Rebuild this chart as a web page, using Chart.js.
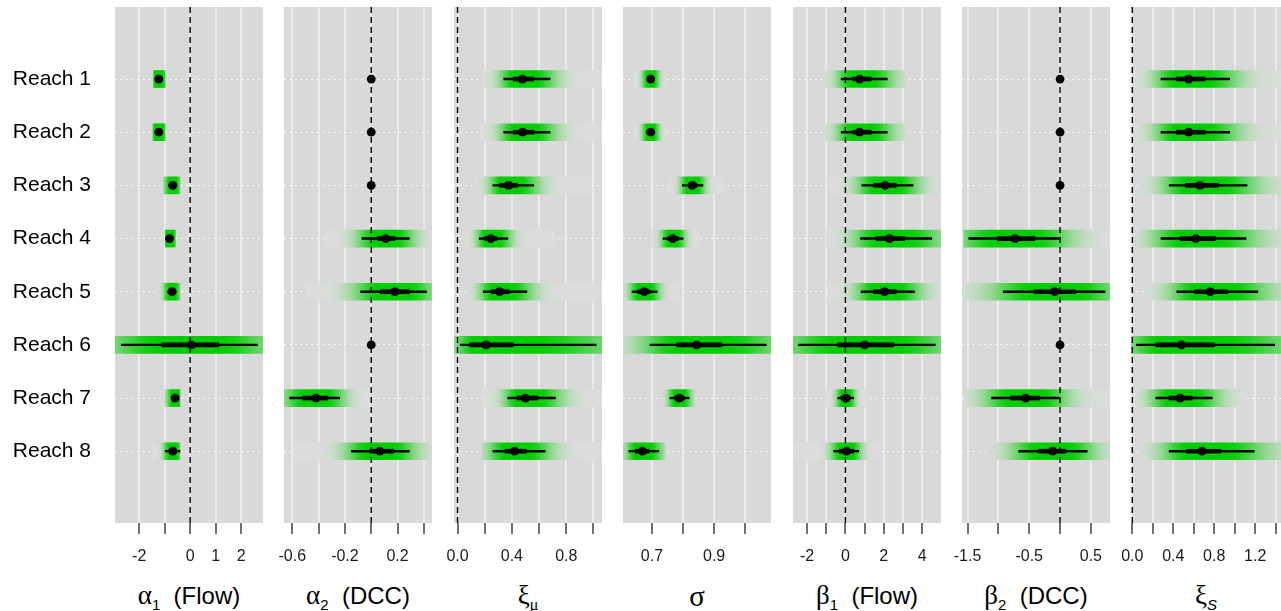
<!DOCTYPE html>
<html>
<head>
<meta charset="utf-8">
<script src="https://cdn.jsdelivr.net/npm/chart.js@4.4.1/dist/chart.umd.min.js"></script>
<style>
  body { margin: 0; background: #fff; width: 1281px; height: 611px; overflow: hidden; position: relative;
         font-family: "Liberation Sans", Arial, sans-serif; }
  .panel { position: absolute; top: 0; }
  .title { position: absolute; top: 582px; width: 200px; text-align: center; white-space: nowrap;
           font-size: 24px; line-height: 1; color: #000; }
  .title .g { font-family: "Liberation Serif", "DejaVu Serif", serif; font-size: 27px; }
  .title sub { font-size: 15px; vertical-align: baseline; position: relative; top: 6px; }
</style>
</head>
<body>
<div id="wrap"></div>
<div class="title" id="t0"><span class="g">α</span><sub>1</sub>&nbsp; (Flow)</div>
<div class="title" id="t1"><span class="g">α</span><sub>2</sub>&nbsp; (DCC)</div>
<div class="title" id="t2"><span class="g">ξ</span><sub class="g" style="font-size:16px">μ</sub></div>
<div class="title" id="t3"><span class="g" style="font-size:29px">σ</span></div>
<div class="title" id="t4"><span class="g">β</span><sub>1</sub>&nbsp; (Flow)</div>
<div class="title" id="t5"><span class="g">β</span><sub>2</sub>&nbsp; (DCC)</div>
<div class="title" id="t6"><span class="g">ξ</span><sub><i>S</i></sub></div>
<script>
// ================= DATA =================
const reaches = ["Reach 1", "Reach 2", "Reach 3", "Reach 4", "Reach 5", "Reach 6", "Reach 7", "Reach 8"];

// alpha1 (Flow)
const a1Point = [-1.23, -1.23, -0.68, -0.81, -0.71, 0.05, -0.59, -0.68];
const a1Thick = [[-1.30, -1.16], [-1.30, -1.16], [-0.76, -0.60], [-0.88, -0.74], [-0.79, -0.63], [-1.11, 1.13], [-0.66, -0.52], [-0.80, -0.56]];
const a1Thin = [[-1.36, -1.10], [-1.36, -1.10], [-0.85, -0.52], [-0.95, -0.67], [-0.88, -0.55], [-2.70, 2.64], [-0.72, -0.46], [-0.98, -0.40]];
const a1Band = [[-1.44, -0.98], [-1.46, -0.98], [-1.05, -0.40], [-0.97, -0.58], [-1.31, -0.40], [-2.95, 2.86], [-0.99, -0.40], [-1.50, -0.40]];
const a1Ticks = [-2, -1, 0, 1, 2];
const a1Labels = ["-2", "", "0", "1", "2"];

// alpha2 (DCC)
const a2Point = [0, 0, 0, 0.11, 0.18, 0, -0.42, 0.065];
const a2Thick = [null, null, null, [0.05, 0.18], [0.07, 0.29], null, [-0.52, -0.33], [-0.01, 0.17]];
const a2Thin = [null, null, null, [-0.07, 0.29], [-0.08, 0.42], null, [-0.62, -0.24], [-0.15, 0.29]];
const a2Band = [null, null, null, [-0.35, 0.47], [-0.50, 0.47], null, [-0.67, 0.0], [-0.59, 0.47]];
const a2Ticks = [-0.6, -0.4, -0.2, 0, 0.2, 0.4];
const a2Labels = ["-0.6", "", "-0.2", "", "0.2", ""];

// xi_mu
const xmPoint = [0.478, 0.478, 0.375, 0.245, 0.31, 0.21, 0.50, 0.42];
const xmThick = [[0.41, 0.56], [0.41, 0.56], [0.31, 0.44], [0.20, 0.29], [0.25, 0.38], [0.09, 0.41], [0.44, 0.59], [0.35, 0.505]];
const xmThin = [[0.34, 0.68], [0.34, 0.68], [0.26, 0.56], [0.16, 0.37], [0.19, 0.51], [0.02, 1.02], [0.37, 0.72], [0.26, 0.645]];
const xmBand = [[0.18, 1.07], [0.17, 1.07], [0.13, 0.98], [0.06, 0.72], [0.09, 1.07], [-0.03, 1.07], [0.19, 1.07], [0.18, 1.07]];
const xmTicks = [0, 0.2, 0.4, 0.6, 0.8, 1.0];
const xmLabels = ["0.0", "", "0.4", "", "0.8", ""];

// sigma
const sgPoint = [0.696, 0.696, 0.83, 0.767, 0.675, 0.844, 0.788, 0.669];
const sgThick = [[0.689, 0.703], [0.689, 0.703], [0.817, 0.844], [0.752, 0.785], [0.655, 0.693], [0.78, 0.925], [0.774, 0.804], [0.648, 0.69]];
const sgThin = [[0.684, 0.708], [0.684, 0.708], [0.798, 0.864], [0.736, 0.80], [0.636, 0.717], [0.694, 1.068], [0.758, 0.82], [0.626, 0.722]];
const sgBand = [[0.645, 0.745], [0.645, 0.747], [0.753, 0.93], [0.699, 0.85], [0.607, 0.79], [0.607, 1.086], [0.736, 0.839], [0.607, 0.742]];
const sgTicks = [0.7, 0.8, 0.9, 1.0];
const sgLabels = ["0.7", "", "0.9", ""];

// beta1 (Flow)
const b1Point = [0.74, 0.74, 2.07, 2.30, 2.04, 1.0, 0.03, 0.06];
const b1Thick = [[0.39, 1.34], [0.39, 1.34], [1.48, 2.65], [1.60, 3.08], [1.48, 2.65], [-0.39, 2.52], [-0.22, 0.25], [-0.30, 0.43]];
const b1Thin = [[-0.22, 2.18], [-0.22, 2.18], [0.86, 3.52], [0.79, 4.5], [0.82, 3.6], [-2.44, 4.68], [-0.39, 0.43], [-0.61, 0.69]];
const b1Band = [[-1.08, 3.08], [-1.15, 3.08], [-0.74, 4.98], [-1.0, 4.98], [-0.9, 4.98], [-2.73, 4.98], [-1.05, 1.12], [-2.65, 1.78]];
const b1Ticks = [-2, -1, 0, 1, 2, 3, 4];
const b1Labels = ["-2", "", "0", "", "2", "", "4"];

// beta2 (DCC)
const b2Point = [0, 0, 0, -0.73, -0.086, 0, -0.56, -0.12];
const b2Thick = [null, null, null, [-1.01, -0.41], [-0.42, 0.25], null, [-0.80, -0.33], [-0.35, 0.09]];
const b2Thin = [null, null, null, [-1.48, 0.0], [-0.92, 0.73], null, [-1.11, 0.0], [-0.67, 0.44]];
const b2Band = [null, null, null, [-1.56, 0.82], [-1.59, 0.82], null, [-1.55, 0.80], [-1.21, 0.82]];
const b2Ticks = [-1.5, -1.0, -0.5, 0, 0.5];
const b2Labels = ["-1.5", "", "-0.5", "", "0.5"];

// xi_S
const xsPoint = [0.55, 0.55, 0.66, 0.62, 0.76, 0.48, 0.465, 0.68];
const xsThick = [[0.43, 0.71], [0.43, 0.71], [0.52, 0.84], [0.47, 0.81], [0.61, 0.93], [0.23, 0.80], [0.36, 0.585], [0.53, 0.86]];
const xsThin = [[0.28, 0.95], [0.28, 0.95], [0.36, 1.12], [0.28, 1.11], [0.435, 1.225], [0.04, 1.39], [0.23, 0.78], [0.36, 1.19]];
const xsBand = [[0.02, 1.45], [0.02, 1.45], [0.07, 1.45], [0.0, 1.45], [0.14, 1.45], [-0.01, 1.45], [0.02, 1.11], [0.10, 1.45]];
const xsTicks = [0, 0.2, 0.4, 0.6, 0.8, 1.0, 1.2, 1.4];
const xsLabels = ["0.0", "", "0.4", "", "0.8", "", "1.2", ""];

// ================= PANELS =================
const panels = [
    { min: -2.95, max: 2.86, point: a1Point, thick: a1Thick, thin: a1Thin, band: a1Band, ticks: a1Ticks, labels: a1Labels, zero: true },
    { min: -0.663, max: 0.462, point: a2Point, thick: a2Thick, thin: a2Thin, band: a2Band, ticks: a2Ticks, labels: a2Labels, zero: true },
    { min: -0.026, max: 1.063, point: xmPoint, thick: xmThick, thin: xmThin, band: xmBand, ticks: xmTicks, labels: xmLabels, zero: true },
    { min: 0.607, max: 1.083, point: sgPoint, thick: sgThick, thin: sgThin, band: sgBand, ticks: sgTicks, labels: sgLabels, zero: false },
    { min: -2.73, max: 4.98, point: b1Point, thick: b1Thick, thin: b1Thin, band: b1Band, ticks: b1Ticks, labels: b1Labels, zero: true },
    { min: -1.59, max: 0.81, point: b2Point, thick: b2Thick, thin: b2Thin, band: b2Band, ticks: b2Ticks, labels: b2Labels, zero: true },
    { min: -0.013, max: 1.452, point: xsPoint, thick: xsThick, thin: xsThin, band: xsBand, ticks: xsTicks, labels: xsLabels, zero: true }
];

const Y_MIN = -0.355, Y_MAX = 9.35;

// ================= HELPERS =================
function mix(a) {
    const r = Math.round(221 * (1 - a));
    const g = Math.round(221 * (1 - a) + 205 * a);
    return `rgb(${r},${g},${r})`;
}

// green gradient that fades out from the point estimate
function bandFill(p) {
    return ctx => {
        const chart = ctx.chart;
        if (!chart.chartArea || !ctx.raw) return "rgba(0,0,0,0)";
        const i = ctx.raw.i;
        const xs = chart.scales.x;
        const x0 = xs.getPixelForValue(p.band[i][0]);
        const x1 = xs.getPixelForValue(p.band[i][1]);
        const xp = xs.getPixelForValue(p.point[i]);
        const sl = Math.max(xp - xs.getPixelForValue(p.thin[i][0]), 7);
        const sr = Math.max(xs.getPixelForValue(p.thin[i][1]) - xp, 7);
        const g = chart.ctx.createLinearGradient(x0, 0, x1, 0);
        const n = 60;
        for (let k = 0; k <= n; k++) {
            const x = x0 + (x1 - x0) * k / n;
            const t = x < xp ? (xp - x) / sl : (x - xp) / sr;
            const a = t <= 0.4 ? 1 : Math.exp(-Math.pow((t - 0.4) / 0.8, 2));
            g.addColorStop(k / n, mix(a));
        }
        return g;
    };
}

function ranges(arr) {
    return arr.map((r, i) => (r ? { x: r, y: i + 1, i } : null)).filter(Boolean);
}

const panelBg = {
    id: "panelBg",
    beforeDraw(chart) {
        const { ctx, chartArea: a } = chart;
        ctx.save();
        ctx.fillStyle = "#D9D9D9";
        ctx.fillRect(a.left, a.top, a.right - a.left, a.bottom - a.top);
        ctx.restore();
    }
};

// ================= BUILD =================
const wrap = document.getElementById("wrap");

panels.forEach((p, k) => {
    const first = k === 0;
    const areaLeft = Math.round(115 + k * 169.4);
    const areaW = k === 6 ? 150 : 148;
    const padL = first ? 0 : 20;
    const padR = 20;
    const yW = first ? 115 : 0;
    const left = first ? 0 : areaLeft - padL;
    const width = padL + yW + areaW + padR;
    const height = 575;

    const div = document.createElement("div");
    div.className = "panel";
    div.style.left = left + "px";
    const canvas = document.createElement("canvas");
    canvas.width = width;
    canvas.height = height;
    canvas.style.width = width + "px";
    canvas.style.height = height + "px";
    div.appendChild(canvas);
    wrap.appendChild(div);

    const title = document.getElementById("t" + k);
    title.style.left = (areaLeft + areaW / 2 - 100) + "px";

    const datasets = [
        {
            type: "scatter",
            data: p.point.map((v, i) => ({ x: v, y: i + 1 })),
            pointRadius: 4.4,
            pointBackgroundColor: "#000",
            pointBorderWidth: 0,
            order: 0
        },
        {
            type: "bar", grouped: false,
            data: ranges(p.thick),
            backgroundColor: "#000", maxBarThickness: 4, barPercentage: 1, categoryPercentage: 1,
            borderWidth: 0, borderSkipped: false,
            order: 1
        },
        {
            type: "bar", grouped: false,
            data: ranges(p.thin),
            backgroundColor: "#000", maxBarThickness: 1.7, barPercentage: 1, categoryPercentage: 1,
            borderWidth: 0, borderSkipped: false,
            order: 2
        },
        {
            type: "bar", grouped: false,
            data: ranges(p.band),
            backgroundColor: bandFill(p), maxBarThickness: 17, barPercentage: 1, categoryPercentage: 1,
            borderWidth: 0, borderSkipped: false,
            order: 4
        }
    ];

    if (p.zero) {
        datasets.push({
            type: "scatter",
            data: [{ x: 0, y: Y_MIN }, { x: 0, y: Y_MAX }],
            showLine: true,
            borderColor: "#000",
            borderWidth: 1.4,
            borderDash: [6, 4],
            pointRadius: 0,
            order: 3
        });
    }

    new Chart(canvas, {
        type: "bar",
        data: { datasets },
        plugins: [panelBg],
        options: {
            indexAxis: "y",
            responsive: false,
            animation: false,
            layout: { padding: { left: padL, right: padR, top: 7, bottom: 0 } },
            plugins: { legend: { display: false }, tooltip: { enabled: false } },
            scales: {
                x: {
                    type: "linear",
                    min: p.min,
                    max: p.max,
                    offset: false,
                    beginAtZero: false,
                    afterBuildTicks: s => { s.ticks = p.ticks.map(v => ({ value: v })); },
                    afterFit: s => { s.height = 52; s.paddingLeft = 0; s.paddingRight = 0; },
                    grid: { offset: false, color: "#EAEAEA", lineWidth: 2, tickColor: "#222", tickWidth: 1.3, tickLength: 11 },
                    border: { display: false },
                    ticks: {
                        autoSkip: false, maxRotation: 0, padding: 13, color: "#1a1a1a",
                        font: { size: 16, family: "Liberation Sans" },
                        callback: (v, i) => p.labels[i]
                    }
                },
                y: {
                    type: "linear",
                    reverse: true,
                    min: Y_MIN,
                    max: Y_MAX,
                    offset: false,
                    beginAtZero: false,
                    afterBuildTicks: s => { s.ticks = reaches.map((r, i) => ({ value: i + 1 })); },
                    afterFit: s => { s.width = yW; s.paddingTop = 0; s.paddingBottom = 0; },
                    grid: { offset: false, color: "rgba(255,255,255,0.85)", lineWidth: 1, drawTicks: false },
                    border: { display: false, dash: [2, 3.5] },
                    ticks: {
                        display: first, padding: 24, color: "#000",
                        font: { size: 21, family: "Liberation Sans" },
                        callback: v => reaches[v - 1]
                    }
                }
            }
        }
    });
});
</script>
</body>
</html>
